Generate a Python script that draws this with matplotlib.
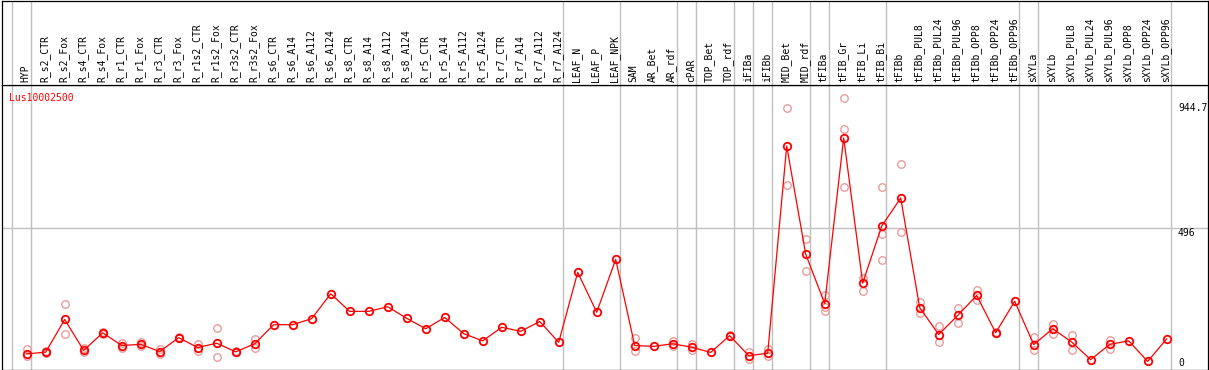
import matplotlib
matplotlib.use("Agg")
import matplotlib.pyplot as plt

# categories (sample names)
samples = ["HYP", "R_s2_CTR", "R_s2_Fox", "R_s4_CTR", "R_s4_Fox", "R_r1_CTR", "R_r1_Fox",
           "R_r3_CTR", "R_r3_Fox", "R_r1s2_CTR", "R_r1s2_Fox", "R_r3s2_CTR", "R_r3s2_Fox",
           "R_s6_CTR", "R_s6_A14", "R_s6_A112", "R_s6_A124", "R_s8_CTR", "R_s8_A14",
           "R_s8_A112", "R_s8_A124", "R_r5_CTR", "R_r5_A14", "R_r5_A112", "R_r5_A124",
           "R_r7_CTR", "R_r7_A14", "R_r7_A112", "R_r7_A124", "LEAF_N", "LEAF_P", "LEAF_NPK",
           "SAM", "AR_Bet", "AR_rdf", "cPAR", "TOP_Bet", "TOP_rdf", "iFIBa", "iFIBb",
           "MID_Bet", "MID_rdf", "tFIBa", "tFIB_Gr", "tFIB_Li", "tFIB_Bi", "tFIBb",
           "tFIBb_PUL8", "tFIBb_PUL24", "tFIBb_PUL96", "tFIBb_OPP8", "tFIBb_OPP24", "tFIBb_OPP96",
           "sXYLa", "sXYLb", "sXYLb_PUL8", "sXYLb_PUL24", "sXYLb_PUL96", "sXYLb_OPP8",
           "sXYLb_OPP24", "sXYLb_OPP96"]

# mean expression per sample
means = [61, 67, 180, 73, 134, 90, 94, 69, 117, 83, 98, 68, 96,
         162, 162, 183, 269, 208, 208, 224, 184, 148, 187, 131, 106, 153, 139, 173, 101,
         343, 205, 388, 90, 87, 96, 84, 66, 124, 55, 63,
         780, 406, 235, 808, 306, 503, 600,
         221, 128, 194, 263, 134, 243,
         93, 148, 102, 41, 94, 106, 35, 113]

# replicate values (empty = single replicate)
reps = [[79, 52], [70, 64], [232, 131], [80, 66], [138, 130], [99, 81], [87, 101],
        [59, 79], [119, 115], [96, 72], [151, 51], [70, 66], [112, 83],
        [], [], [], [], [], [], [], [], [], [], [], [], [], [], [], [],
        [], [], [],
        [115, 70], [], [105, 87], [94, 75], [], [126, 122], [43, 67], [79, 54],
        [911, 644], [460, 347], [266, 223, 209], [944.7, 838, 637], [325, 277],
        [637, 477, 387], [718, 481],
        [240, 203], [156, 101], [218, 169], [283, 246], [136, 132], [],
        [120, 75], [166, 131], [128, 75], [], [110, 77], [], [], []]

# group separators come after these sample indices
group_ends = [-1, 0, 28, 31, 34, 35, 37, 38, 39, 41, 42, 45, 52, 53, 60]

gene = "Lus10002500"
y_labels = ["944.7", "496", "0"]

W, H = 1209, 370
fig = plt.figure(figsize=(W / 100, H / 100), dpi=100)

left = 1.5 / W
width = 1206 / W
ax = fig.add_axes([left, 1 - 369.5 / H, width, 284.5 / H])
axh = fig.add_axes([left, 1 - 85 / H, width, 84.5 / H])

xmin, xmax = -1.326, 62.147
for a in (ax, axh):
    a.set_xlim(xmin, xmax)
    a.set_xticks([])
    a.set_yticks([])
    for s in a.spines.values():
        s.set_linewidth(0.9)
        s.set_color("black")
    for g in group_ends:
        a.axvline(g + 0.21, color="#c0c0c0", lw=1, zorder=0)

ax.set_ylim(7, 991)
axh.set_ylim(0, 1)
ax.axhline(496, color="#c0c0c0", lw=1, zorder=0)

x = list(range(len(samples)))
for i, r in enumerate(reps):
    if r:
        ax.plot([i] * len(r), r, linestyle="none", marker="o", ms=5.4, mfc="none",
                mec="#e89c9c", mew=1.0, zorder=2)

ax.plot(x, means, color="red", lw=0.9, marker="o", ms=5.4, mfc="none", mec="red",
        mew=1.3, zorder=3)

mono = "DejaVu Sans Mono"
for i, name in enumerate(samples):
    axh.text(i - 0.05, 0.03, name, rotation=90, ha="center", va="bottom",
             fontsize=7, family=mono)

ax.text(0.0065, 0.955, gene, transform=ax.transAxes, color="red", fontsize=7,
        family=mono, ha="left", va="center")

for lab, yf in zip(y_labels, [0.937, 0.496, 0.04]):
    ax.text(60.59, 0, lab, transform=ax.get_xaxis_transform(), fontsize=7, family=mono,
            ha="left", va="top")
    ax.texts[-1].set_y(yf)

fig.savefig("out.png", dpi=100)
